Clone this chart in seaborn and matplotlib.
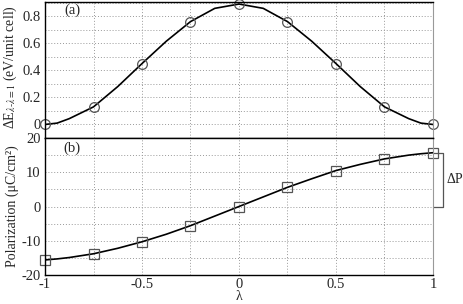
import numpy as np
import pandas as pd
import matplotlib
matplotlib.use("Agg")
import matplotlib.pyplot as plt
import seaborn as sns

# --- data ---
lam_pts = [-1, -0.75, -0.5, -0.25, 0, 0.25, 0.5, 0.75, 1]
dE_pts = [0.0, 0.13, 0.45, 0.76, 0.89, 0.76, 0.45, 0.13, 0.0]
P_pts = [-15.6, -13.8, -10.3, -5.6, 0.0, 5.6, 10.5, 13.9, 15.7]

lam_curve = [-1, -0.9375, -0.875, -0.75, -0.625, -0.5, -0.375, -0.25, -0.125, 0,
             0.125, 0.25, 0.375, 0.5, 0.625, 0.75, 0.875, 0.9375, 1]
dE_curve = [0.0, 0.01, 0.043, 0.13, 0.28, 0.45, 0.615, 0.76, 0.858, 0.89,
            0.858, 0.76, 0.615, 0.45, 0.28, 0.13, 0.043, 0.01, 0.0]
P_curve = [-15.6, -15.3, -14.9, -13.8, -12.2, -10.3, -8.1, -5.6, -2.8, 0.0,
           2.8, 5.6, 8.1, 10.5, 12.3, 13.9, 15.0, 15.4, 15.7]

x_ticks = [-1, -0.5, 0, 0.5, 1]
x_tick_labels = ["-1", "-0.5", "0", "0.5", "1"]
top_ticks = [0, 0.2, 0.4, 0.6, 0.8]
top_tick_labels = ["0", "0.2", "0.4", "0.6", "0.8"]
bot_ticks = [-20, -10, 0, 10, 20]
bot_tick_labels = ["-20", "-10", "0", "10", "20"]

sns.set_style("white")
plt.rcParams["font.family"] = ["Liberation Serif", "DejaVu Serif"]
plt.rcParams["mathtext.fontset"] = "stix"

fig = plt.figure(figsize=(4.64, 3.04), dpi=100)
L, R = 45 / 464, 433 / 464
ax1 = fig.add_axes([L, 1 - 138 / 304, R - L, 136 / 304])
ax2 = fig.add_axes([L, 1 - 275 / 304, R - L, 137 / 304])

df_pts = pd.DataFrame({"lam": lam_pts, "dE": dE_pts, "P": P_pts})
df_curve = pd.DataFrame({"lam": lam_curve, "dE": dE_curve, "P": P_curve})

fs = 10.5
lfs = 10
for ax in (ax1, ax2):
    ax.set_xlim(-1, 1)
    ax.set_xticks(np.arange(-1, 1.01, 0.25), minor=True)
    ax.set_xticks(x_ticks)
    ax.grid(True, which="both", linestyle=(0, (1, 2)), color="#999999", linewidth=0.7)
    ax.set_axisbelow(True)
    ax.tick_params(which="both", length=0, labelsize=fs, pad=3)
    for s in ("left", "top", "bottom"):
        ax.spines[s].set_color("black")
        ax.spines[s].set_linewidth(1.0)
    ax.spines["right"].set_color("#999999")
    ax.spines["right"].set_linewidth(0.8)

# top panel
sns.lineplot(data=df_curve, x="lam", y="dE", ax=ax1, color="black", linewidth=1.2, sort=False)
sns.lineplot(data=df_pts, x="lam", y="dE", ax=ax1, linestyle="", marker="o",
             markersize=7, markerfacecolor="none", markeredgecolor="#555555",
             markeredgewidth=0.9, color="#555555", clip_on=False)
ax1.set_ylim(-0.097, 0.905)
ax1.set_yticks(np.arange(-0.1, 0.91, 0.1), minor=True)
ax1.set_yticks(top_ticks)
ax1.set_yticklabels(top_tick_labels)
ax1.set_xticklabels([])
ax1.set_xlabel("")
ax1.set_ylabel(r"ΔE$_{\lambda\text{-}\lambda=1}$ (eV/unit cell)", fontsize=lfs)
ax1.yaxis.set_label_coords(-0.068, 0.52)
ax1.text(0.07, 0.94, "(a)", transform=ax1.transAxes, fontsize=fs,
         ha="center", va="center")

# bottom panel
sns.lineplot(data=df_curve, x="lam", y="P", ax=ax2, color="black", linewidth=1.2, sort=False)
sns.lineplot(data=df_pts, x="lam", y="P", ax=ax2, linestyle="", marker="s",
             markersize=6.5, markerfacecolor="none", markeredgecolor="#555555",
             markeredgewidth=0.9, color="#555555", clip_on=False)
ax2.set_ylim(-20, 20)
ax2.set_yticks(np.arange(-20, 21, 5), minor=True)
ax2.set_yticks(bot_ticks)
ax2.set_yticklabels(bot_tick_labels)
ax2.set_xticklabels(x_tick_labels)
ax2.tick_params(axis="x", pad=2)
ax2.set_xlabel("")
fig.text((L + R) / 2, 1 - 297 / 304, "λ", fontsize=lfs, ha="center", va="center")
ax2.set_ylabel("Polarization (μC/cm²)", fontsize=lfs)
ax2.yaxis.set_label_coords(-0.068, 0.5)
ax2.text(0.07, 0.927, "(b)", transform=ax2.transAxes, fontsize=fs,
         ha="center", va="center")

# ΔP bracket
xb = 1.0515
ax2.plot([1, xb, xb, 1], [P_pts[-1], P_pts[-1], 0, 0], color="#555555",
         linewidth=0.9, clip_on=False)
ax2.text(1.068, P_pts[-1] / 2, "ΔP", fontsize=lfs, ha="left", va="center")

fig.savefig("out.png", dpi=100)
